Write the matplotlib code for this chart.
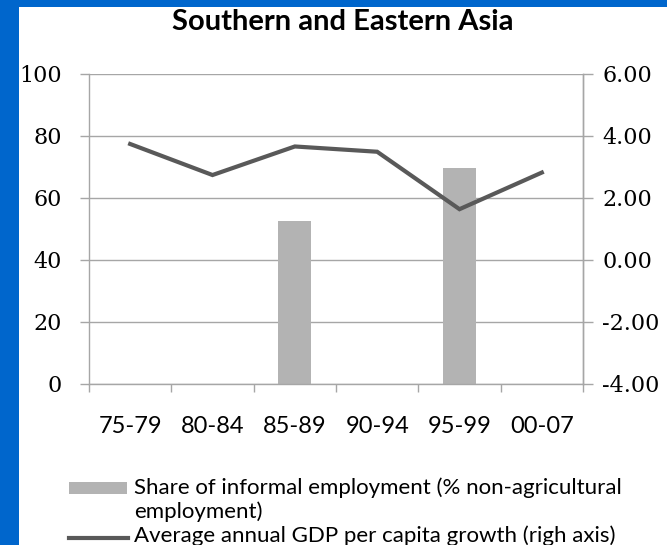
import matplotlib.pyplot as plt
import numpy as np
from matplotlib.patches import Rectangle

# data
periods = ["75-79", "80-84", "85-89", "90-94", "95-99", "00-07"]
informal_share = [np.nan, np.nan, 52.6, np.nan, 69.7, np.nan]
gdp_growth = [3.73, 2.73, 3.65, 3.48, 1.63, 2.81]
left_ticks = [0, 20, 40, 60, 80, 100]
right_ticks = [-4, -2, 0, 2, 4, 6]
bar_label = ["Share of informal employment (% non-agricultural", "employment)"]
line_label = "Average annual GDP per capita growth (righ axis)"
title = "Southern and Eastern Asia"

W, H = 667, 545
fig = plt.figure(figsize=(W / 100, H / 100), dpi=100, facecolor="white")
# blue slide strips, left and top
blue = "#0066CC"
fig.patches.append(Rectangle((0, 0), 19 / W, 1, transform=fig.transFigure,
                             facecolor=blue, edgecolor="none"))
fig.patches.append(Rectangle((0, 1 - 7 / H), 1, 7 / H, transform=fig.transFigure,
                             facecolor=blue, edgecolor="none"))

grey = "#A6A6A6"
ax = fig.add_axes([89 / W, 1 - 384 / H, (583 - 89) / W, (384 - 73.5) / H])
x = np.arange(len(periods))

# bars
ax.bar(x, informal_share, width=0.4, color="#B3B3B3", zorder=2)
ax.set_ylim(0, 100)
ax.set_xlim(-0.5, len(periods) - 0.5)
ax.set_yticks(left_ticks)
ax.grid(axis="y", color=grey, linewidth=1.0, zorder=0)
ax.set_axisbelow(True)

# category boundary ticks on x axis, labels centred on categories
ax.set_xticks(np.arange(-0.5, len(periods) + 0.5, 1))
ax.set_xticklabels([])
ax.set_xticks(x, minor=True)
ax.set_xticklabels(periods, minor=True, fontsize=17, family="Lato")
ax.tick_params(axis="x", which="minor", length=0, pad=23)
ax.tick_params(axis="x", which="major", length=6, color=grey, width=1.0)
ax.tick_params(axis="y", length=6.5, color=grey, width=1.0, pad=13)
for lab in ax.get_yticklabels():
    lab.set_fontsize(16)
    lab.set_family("DejaVu Serif")

ax.spines["top"].set_visible(False)
for side in ["left", "right", "bottom"]:
    ax.spines[side].set_color(grey)
    ax.spines[side].set_linewidth(1.0)

# line on right axis
ax2 = ax.twinx()
ax2.plot(x, gdp_growth, color="#595959", linewidth=3.0, solid_joinstyle="miter", zorder=3)
ax2.set_ylim(-4, 6)
ax2.set_yticks(right_ticks)
ax2.set_yticklabels([f"{v:.2f}" for v in right_ticks], fontsize=16, family="DejaVu Serif")
ax2.tick_params(axis="y", length=7, color=grey, width=1.0, pad=7)
for side in ["top", "left", "bottom"]:
    ax2.spines[side].set_visible(False)
ax2.spines["right"].set_color(grey)
ax2.spines["right"].set_linewidth(1.0)

fig.text(343 / W, 1 - 30 / H, title, ha="center", va="baseline", fontsize=21,
         fontweight="bold", family="Lato")

# legend
fig.patches.append(Rectangle((69 / W, 1 - 494 / H), 58 / W, 12 / H, transform=fig.transFigure,
                             facecolor="#B3B3B3", edgecolor="none"))
fig.lines.append(plt.Line2D([69 / W, 128 / W], [1 - 538 / H, 1 - 538 / H], transform=fig.transFigure,
                            color="#595959", linewidth=3.0))
for i, txt in enumerate(bar_label):
    fig.text(134 / W, 1 - (494 + 24 * i) / H, txt, ha="left", va="baseline", fontsize=16,
             family="Lato")
fig.text(134 / W, 1 - 542 / H, line_label, ha="left", va="baseline", fontsize=16, family="Lato")

fig.savefig("out.png", dpi=100, facecolor=fig.get_facecolor())
